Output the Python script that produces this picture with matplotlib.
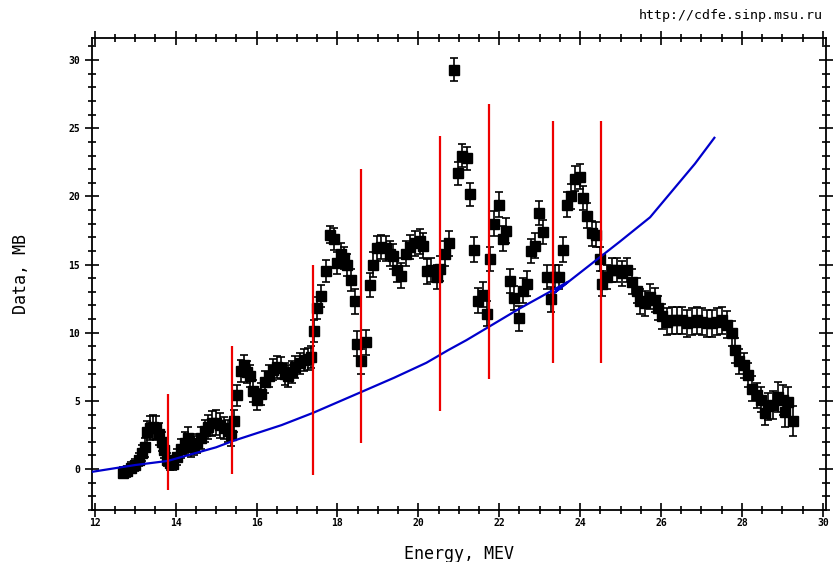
import matplotlib
matplotlib.use("Agg")
import matplotlib.pyplot as plt
from matplotlib.ticker import MultipleLocator

# measured cross section with errors
energy = [
    12.69, 12.79, 12.89, 12.99, 13.09, 13.16, 13.24, 13.29, 13.36, 13.43,
    13.51, 13.58, 13.66, 13.71, 13.78, 13.85, 13.93, 14.03, 14.13, 14.23,
    14.30, 14.37, 14.45, 14.52, 14.62, 14.72, 14.79, 14.89, 14.99, 15.09,
    15.19, 15.29, 15.36, 15.44, 15.51, 15.61, 15.68, 15.76, 15.83, 15.91,
    16.01, 16.10, 16.20, 16.30, 16.40, 16.50, 16.60, 16.70, 16.77, 16.87,
    16.95, 17.07, 17.17, 17.27, 17.34, 17.42, 17.49, 17.59, 17.71, 17.81,
    17.91, 17.98, 18.08, 18.16, 18.23, 18.33, 18.43, 18.48, 18.58, 18.70,
    18.80, 18.87, 18.97, 19.07, 19.20, 19.29, 19.37, 19.47, 19.57, 19.69,
    19.79, 19.91, 20.04, 20.11, 20.21, 20.31, 20.46, 20.53, 20.65, 20.75,
    20.88, 20.98, 21.08, 21.20, 21.27, 21.37, 21.47, 21.59, 21.69, 21.77,
    21.87, 21.99, 22.09, 22.16, 22.26, 22.36, 22.48, 22.58, 22.68, 22.78,
    22.88, 22.98, 23.08, 23.18, 23.28, 23.37, 23.47, 23.57, 23.67, 23.77,
    23.87, 23.99, 24.07, 24.17, 24.29, 24.39, 24.49, 24.54, 24.66, 24.78,
    24.91, 25.03, 25.16, 25.28, 25.40, 25.48, 25.60, 25.72, 25.85, 25.92,
    26.02, 26.14, 26.27, 26.39, 26.52, 26.64, 26.76, 26.89, 27.01, 27.13,
    27.26, 27.38, 27.50, 27.63, 27.75, 27.83, 27.92, 28.05, 28.15, 28.25,
    28.37, 28.47, 28.57, 28.64, 28.77, 28.89, 29.01, 29.06, 29.14, 29.26,
]
sigma = [
    -0.25, -0.15, 0.1, 0.3, 0.7, 1.2, 1.6, 2.7, 3.0, 3.1,
    3.0, 2.6, 2.0, 1.4, 0.7, 0.45, 0.4, 0.9, 1.5, 1.9,
    2.3, 1.6, 1.7, 1.9, 2.3, 2.8, 3.1, 3.35, 3.4, 3.2,
    3.0, 2.8, 2.5, 3.5, 5.4, 7.2, 7.6, 7.1, 6.8, 5.7,
    5.1, 5.5, 6.4, 6.8, 7.3, 7.5, 7.4, 7.0, 6.8, 7.1,
    7.5, 7.75, 8.0, 8.1, 8.2, 10.1, 11.8, 12.7, 14.55, 17.2,
    16.9, 15.1, 15.8, 15.5, 15.0, 13.9, 12.3, 9.2, 7.9, 9.3,
    13.5, 15.0, 16.2, 16.3, 16.2, 15.8, 15.6, 14.6, 14.2, 15.8,
    16.3, 16.55, 16.7, 16.4, 14.5, 14.6, 14.1, 14.7, 15.8, 16.55,
    29.3, 21.7, 23.0, 22.8, 20.15, 16.1, 12.35, 12.8, 11.4, 15.4,
    18.0, 19.4, 16.9, 17.5, 13.8, 12.55, 11.05, 13.1, 13.6, 16.0,
    16.4, 18.8, 17.4, 14.1, 12.45, 14.1, 14.1, 16.1, 19.4, 20.0,
    21.3, 21.45, 19.9, 18.6, 17.3, 17.2, 15.4, 13.6, 14.1, 14.6,
    14.6, 14.35, 14.6, 13.75, 13.1, 12.3, 12.15, 12.65, 12.4, 11.8,
    11.2, 10.8, 10.9, 10.9, 10.9, 10.7, 10.8, 10.9, 10.8, 10.7,
    10.7, 10.8, 10.9, 10.6, 9.95, 8.7, 7.9, 7.6, 6.9, 5.9,
    5.4, 5.1, 4.1, 4.6, 4.7, 5.3, 5.1, 4.2, 4.9, 3.5,
]
sigma_err = [
    0.4, 0.4, 0.4, 0.45, 0.5, 0.6, 0.7, 0.8, 0.9, 0.9,
    0.9, 0.8, 0.7, 0.6, 0.5, 0.5, 0.5, 0.6, 0.7, 0.8,
    0.8, 0.7, 0.7, 0.7, 0.8, 0.8, 0.9, 0.9, 0.9, 0.9,
    0.8, 0.8, 0.8, 0.8, 0.8, 0.8, 0.8, 0.8, 0.8, 0.8,
    0.8, 0.8, 0.8, 0.8, 0.8, 0.8, 0.8, 0.8, 0.8, 0.8,
    0.8, 0.8, 0.8, 0.8, 0.8, 0.8, 0.8, 0.8, 0.8, 0.6,
    0.8, 0.8, 0.8, 0.8, 0.8, 0.8, 0.9, 0.9, 0.9, 0.9,
    0.9, 0.9, 0.9, 0.9, 0.9, 0.9, 0.9, 0.9, 0.9, 0.9,
    0.9, 0.9, 0.9, 0.9, 0.9, 0.9, 0.9, 0.9, 0.9, 0.9,
    0.85, 0.85, 0.85, 0.85, 0.85, 0.9, 0.9, 0.9, 0.9, 0.9,
    0.9, 0.9, 0.9, 0.9, 0.9, 0.9, 0.9, 0.9, 0.9, 0.9,
    0.9, 0.9, 0.9, 0.9, 0.9, 0.9, 0.9, 0.9, 0.9, 0.9,
    0.9, 0.9, 0.9, 0.9, 0.9, 0.9, 0.9, 0.9, 0.9, 0.9,
    0.9, 0.9, 0.9, 0.9, 0.9, 0.9, 0.9, 0.9, 0.9, 0.9,
    0.9, 1.0, 1.0, 1.0, 1.0, 1.0, 1.0, 1.0, 1.0, 1.0,
    1.0, 1.0, 1.0, 1.0, 0.9, 0.9, 0.9, 0.9, 0.9, 0.9,
    0.9, 0.9, 0.9, 1.0, 1.0, 1.1, 1.1, 1.1, 1.1, 1.1,
]

# model curve
model_e = [11.93, 13.0, 13.8, 15.0, 15.4, 16.62, 17.4, 18.6, 19.4, 20.2,
           20.74, 21.19, 22.51, 23.70, 23.35, 24.98, 25.73, 26.84, 27.32]
model_s = [-0.2, 0.3, 0.6, 1.6, 2.05, 3.23, 4.13, 5.67, 6.7, 7.8,
           8.73, 9.46, 11.79, 13.74, 12.9, 16.68, 18.47, 22.4, 24.3]

# red vertical markers
mark_e = [13.81, 15.39, 17.39, 18.58, 20.53, 21.74, 23.33, 24.51]
mark_lo = [-1.55, -0.35, -0.4, 1.9, 4.25, 6.6, 7.8, 7.8]
mark_hi = [5.5, 9.0, 15.0, 22.0, 24.4, 26.8, 25.5, 25.5]

fig = plt.figure(figsize=(8.33, 5.62), dpi=100)
ax = fig.add_axes([0.1104, 0.0925, 0.8812, 0.8399])

ax.errorbar(energy, sigma, yerr=sigma_err, fmt="s", color="black",
            markersize=7, elinewidth=1.2, capsize=3, capthick=1.2, zorder=2)
ax.plot(model_e, model_s, color="#0000cc", linewidth=1.6, zorder=3)
ax.vlines(mark_e, mark_lo, mark_hi, color="#ee0000", linewidth=1.6, zorder=4)

ax.set_xlim(11.93, 30.08)
ax.set_ylim(-3.0, 31.62)
ax.xaxis.set_major_locator(MultipleLocator(2))
ax.xaxis.set_minor_locator(MultipleLocator(0.5))
ax.yaxis.set_major_locator(MultipleLocator(5))
ax.yaxis.set_minor_locator(MultipleLocator(1))
ax.tick_params(which="both", direction="inout", top=True, right=True,
               width=1.2, labelsize=7)
ax.tick_params(which="major", length=10)
ax.tick_params(which="minor", length=6)
ax.tick_params(axis="x", pad=1)
for lab in ax.get_xticklabels() + ax.get_yticklabels():
    lab.set_family("DejaVu Sans Mono")
    lab.set_fontweight("bold")
for sp in ax.spines.values():
    sp.set_linewidth(1.3)

ax.set_xlabel("Energy, MEV", family="DejaVu Sans Mono", fontsize=12, labelpad=12)
ax.set_ylabel("Data, MB", family="DejaVu Sans Mono", fontsize=12, labelpad=28)
fig.text(0.988, 0.972, "http://cdfe.sinp.msu.ru", ha="right", va="center",
         family="DejaVu Sans Mono", fontsize=9.5)

fig.savefig("out.png", dpi=100)
